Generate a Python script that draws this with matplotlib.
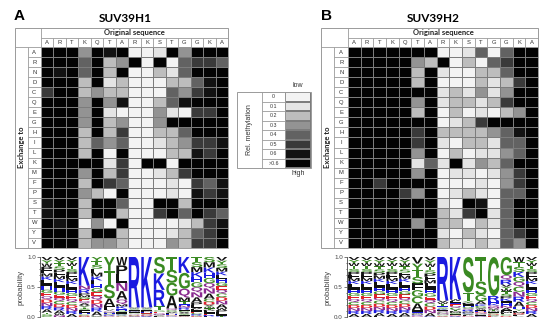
import numpy as np
import matplotlib
matplotlib.use("Agg")
import matplotlib.pyplot as plt
from matplotlib.colors import ListedColormap, BoundaryNorm
from matplotlib.textpath import TextPath
from matplotlib.patches import PathPatch, Rectangle
from matplotlib.font_manager import FontProperties
from matplotlib.transforms import Affine2D

plt.rcParams['font.family'] = ['Lato', 'DejaVu Sans']

original = list("ARTKQTARKSTGGKA")
exchange = list("ARNDCQEGHILKMFPSTWYV")

# methylation class of every cell, one string per exchanged residue
# 0 -> "0", 1 -> "0.1" ... 6 -> "0.6", 7 -> ">0.6"
suv39h1 = [
    "777376700173777",  # A
    "777472370704554",  # R
    "767472700214777",  # N
    "777271200022467",  # D
    "577232200043567",  # C
    "777373600246777",  # Q
    "777371000310557",  # E
    "777372300377777",  # G
    "777272500224777",  # H
    "777243400123556",  # I
    "777270700022657",  # L
    "777771507707777",  # K
    "777372500125777",  # M
    "777275400010546",  # F
    "777320700010656",  # P
    "677277400772777",  # S
    "677277200574754",  # T
    "767030700001256",  # W
    "777277200012457",  # Y
    "777233200032557",  # V
]

suv39h2 = [
    "777777700140477",  # A
    "777773270204577",  # R
    "777772710022477",  # N
    "777772700021257",  # D
    "777777712131377",  # C
    "777773712212577",  # Q
    "777772702010237",  # E
    "777777701257777",  # G
    "777775722223467",  # H
    "777775710221447",  # I
    "777773702011347",  # L
    "777771417132477",  # K
    "777773701101357",  # M
    "775777700010357",  # F
    "777753701210447",  # P
    "777777710760477",  # S
    "777777721571477",  # T
    "777773722021477",  # W
    "777777710210457",  # Y
    "777777721121437",  # V
]

legend_labels = ['0', '0.1', '0.2', '0.3', '0.4', '0.5', '0.6', '>0.6']
legend_grays = ['#f3f3f3', '#e4e4e4', '#bdbdbd', '#939393', '#626262', '#3a3a3a', '#121212', '#030303']
# relative weight of each class when stacking the logo letters
logo_weight = [0.01, 0.02, 0.04, 0.07, 0.13, 0.25, 0.55, 1.0]

aa_colors = {}
for a in "KRH":
    aa_colors[a] = '#1a1ae0'
for a in "DE":
    aa_colors[a] = '#e0202a'
for a in "STGYC":
    aa_colors[a] = '#3a8a22'
for a in "NQ":
    aa_colors[a] = '#8a2a90'
for a in "AVLIPWFM":
    aa_colors[a] = '#111111'

W, H = 550, 325
fig = plt.figure(figsize=(W / 100, H / 100), dpi=100)
cmap = ListedColormap(legend_grays)
norm = BoundaryNorm(np.arange(-0.5, 8.5, 1), cmap.N)
line_c = '#9a9a9a'
cell_c = '#7c7c7c'
logo_font = FontProperties(family='Liberation Sans', weight='bold')


def px_axes(x0, y0, x1, y1):
    return fig.add_axes([x0 / W, 1 - y1 / H, (x1 - x0) / W, (y1 - y0) / H])


def seg(ax, xs, ys):
    ax.plot(xs, ys, color=line_c, lw=0.6, clip_on=False, solid_capstyle='butt')


def draw_table(ax, rows):
    data = np.array([[int(c) for c in r] for r in rows])
    ax.pcolormesh(data, cmap=cmap, norm=norm, edgecolors=cell_c, linewidth=0.45)
    ax.set_xlim(0, 15)
    ax.set_ylim(20, 0)
    ax.axis('off')
    left, lab, top, head = -2.1, -1.08, -1.9, -0.92
    # outer frame and header grid
    ax.add_patch(Rectangle((left, top), 15 - left, 20 - top, fill=False,
                           ec=line_c, lw=0.7, clip_on=False))
    seg(ax, [0, 15], [head, head])
    seg(ax, [left, 15], [0, 0])
    seg(ax, [0, 0], [top, 20])
    seg(ax, [lab, lab], [0, 20])
    for j in range(1, 15):
        seg(ax, [j, j], [head, 0])
    for i in range(1, 20):
        seg(ax, [lab, 0], [i, i])
    for j, a in enumerate(original):
        ax.text(j + 0.5, head / 2, a, ha='center', va='center', fontsize=4.2,
                color='#333333', family='Liberation Sans')
    for i, a in enumerate(exchange):
        ax.text(lab / 2, i + 0.5, a, ha='center', va='center', fontsize=4.2,
                color='#333333', family='Liberation Sans')
    ax.text(7.5, (top + head) / 2, 'Original sequence', ha='center', va='center',
            fontsize=5.5, fontweight='bold', color='#222222')
    ax.text((left + lab) / 2, 10, 'Exchange to', ha='center', va='center',
            rotation=90, fontsize=5.5, fontweight='bold', color='#222222')


def draw_letter(ax, ch, x, y, w, h, color):
    tp = TextPath((0, 0), ch, size=1, prop=logo_font)
    bb = tp.get_extents()
    t = Affine2D().translate(-bb.x0, -bb.y0).scale(w / bb.width, h / bb.height).translate(x, y)
    ax.add_patch(PathPatch(t.transform_path(tp), fc=color, ec='none', lw=0))


def draw_logo(ax, rows):
    levels = np.array([[int(c) for c in r] for r in rows])
    wts = np.array(logo_weight)[levels]
    prob = wts / wts.sum(axis=0)
    for j in range(prob.shape[1]):
        order = np.argsort(prob[:, j], kind='stable')
        y = 0.0
        for i in order:
            h = prob[i, j]
            draw_letter(ax, exchange[i], j + 0.06, y, 0.88, h, aa_colors[exchange[i]])
            y += h
    ax.set_xlim(-0.05, 15)
    ax.set_ylim(0, 1)
    for s in ['top', 'right', 'bottom']:
        ax.spines[s].set_visible(False)
    ax.spines['left'].set_linewidth(0.6)
    ax.spines['left'].set_color('#444444')
    ax.set_xticks([])
    ax.set_yticks([0, 0.5, 1.0])
    ax.set_yticks([0.1, 0.2, 0.3, 0.4, 0.6, 0.7, 0.8, 0.9], minor=True)
    ax.tick_params(axis='y', labelsize=4.5, length=2, width=0.5, pad=1, colors='#444444')
    ax.tick_params(axis='y', which='minor', length=1, width=0.4)
    ax.set_yticklabels(['0.0', '0.5', '1.0'], family='Liberation Sans')
    ax.set_ylabel('probability', fontsize=5.5, color='#444444', labelpad=2,
                  family='Liberation Sans')


# panel A
ax_a = px_axes(41, 47, 228, 248)
draw_table(ax_a, suv39h1)
ax_la = px_axes(40, 257, 228, 317)
draw_logo(ax_la, suv39h1)
fig.text(14 / W, 1 - 16 / H, 'A', fontsize=11, fontweight='bold', va='center',
         family='Liberation Sans')
fig.text(125 / W, 1 - 19 / H, 'SUV39H1', fontsize=8.5, fontweight='bold',
         ha='center', va='center')

# panel B
ax_b = px_axes(348, 47, 538, 248)
draw_table(ax_b, suv39h2)
ax_lb = px_axes(347, 257, 538, 317)
draw_logo(ax_lb, suv39h2)
fig.text(321 / W, 1 - 16 / H, 'B', fontsize=11, fontweight='bold', va='center',
         family='Liberation Sans')
fig.text(433 / W, 1 - 19 / H, 'SUV39H2', fontsize=8.5, fontweight='bold',
         ha='center', va='center')

# legend
ax_l = px_axes(285, 92, 311, 168)
ax_l.pcolormesh(np.arange(8).reshape(8, 1), cmap=cmap, norm=norm,
                edgecolors=cell_c, linewidth=0.3)
ax_l.set_xlim(0, 1)
ax_l.set_ylim(8, 0)
ax_l.axis('off')
lx0, lx1 = -1.85, -0.88
ax_l.add_patch(Rectangle((lx0, 0), 1 - lx0, 8, fill=False, ec=line_c, lw=0.7, clip_on=False))
seg(ax_l, [lx1, lx1], [0, 8])
seg(ax_l, [0, 0], [0, 8])
for k, lab in enumerate(legend_labels):
    if k > 0:
        seg(ax_l, [lx1, 0], [k, k])
    ax_l.text(lx1 / 2, k + 0.5, lab, ha='center', va='center', fontsize=3.8,
              color='#333333', family='Liberation Sans')
ax_l.text((lx0 + lx1) / 2, 4, 'Rel. methylation', rotation=90, ha='center',
          va='center', fontsize=5, color='#333333', family='Liberation Sans')
ax_l.text(0.5, -0.65, 'low', ha='center', va='center', fontsize=5,
          color='#333333', family='Liberation Sans')
ax_l.text(0.5, 8.6, 'high', ha='center', va='center', fontsize=5,
          color='#333333', family='Liberation Sans')

fig.savefig('out.png', dpi=100)
